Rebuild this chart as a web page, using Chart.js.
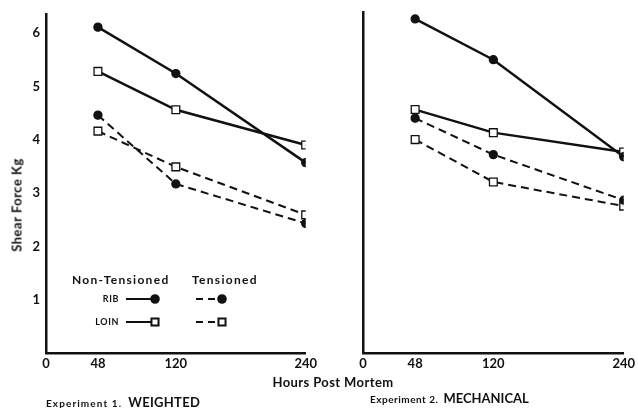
<!DOCTYPE html>
<html>
<head>
<meta charset="utf-8">
<script src="https://cdn.jsdelivr.net/npm/chart.js@4.4.0/dist/chart.umd.min.js"></script>
<style>
  body { margin: 0; background: #fff; font-family: Lato, "Liberation Sans", sans-serif; color: #111; }
  #wrap { position: relative; width: 638px; height: 408px; overflow: hidden; }
  canvas { position: absolute; top: 0; }
  .txt { position: absolute; font-weight: bold; white-space: nowrap; line-height: 1; }
  .small { font-size: 10px; letter-spacing: 1.1px; }
  .big { font-size: 13px; margin-left: 6px; letter-spacing: 0.3px; }
  #cap2 .small { letter-spacing: 0.5px; }
  #cap2 .big { letter-spacing: 0; margin-left: 5px; }
</style>
</head>
<body>
<div id="wrap">
  <canvas id="exp1" width="320" height="408" style="left:0"></canvas>
  <canvas id="exp2" width="318" height="408" style="left:320px"></canvas>
  <div class="txt" style="left:17px;top:205px;font-size:13px;letter-spacing:0.5px;transform:translate(-50%,-50%) rotate(-90deg);">Shear Force Kg</div>
  <div class="txt" style="left:333px;top:382px;font-size:13px;transform:translate(-50%,-50%);letter-spacing:0.4px;">Hours Post Mortem</div>
  <div class="txt" style="left:46px;top:393px;"><span class="small">Experiment 1.</span><span class="big">WEIGHTED</span></div>
  <div class="txt" id="cap2" style="left:370px;top:389px;"><span class="small">Experiment 2.</span><span class="big">MECHANICAL</span></div>
</div>
<script>
// hours post mortem and shear force (kg)
const hours = [48, 120, 240];
const xTicks = [0, 48, 120, 240];
const yTicks = [1, 2, 3, 4, 5, 6];

const exp1RibNT = [6.11, 5.24, 3.57];
const exp1LoinNT = [5.28, 4.56, 3.90];
const exp1RibT = [4.46, 3.17, 2.43];
const exp1LoinT = [4.16, 3.49, 2.59];

const exp2RibNT = [6.23, 5.47, 3.66];
const exp2LoinNT = [4.54, 4.11, 3.75];
const exp2RibT = [4.38, 3.70, 2.85];
const exp2LoinT = [3.98, 3.19, 2.74];

const ink = '#111';
const font = 'Lato, "Liberation Sans", sans-serif';

function series(values, dashed, marker) {
    return {
        data: values.map((v, i) => ({ x: hours[i], y: v })),
        borderColor: ink,
        borderWidth: dashed ? 2 : 2.5,
        borderDash: dashed ? [8, 5] : [],
        pointStyle: marker,
        pointRadius: marker == 'rect' ? 5.5 : 4,
        pointBorderWidth: 1.3,
        pointBorderColor: ink,
        pointBackgroundColor: marker == 'rect' ? '#fff' : ink,
        tension: 0
    };
}

// key for the line styles, drawn in the lower part of the first panel
const keyPlugin = {
    id: 'key',
    afterDatasetsDraw(chart) {
        const ctx = chart.ctx;
        ctx.save();
        ctx.fillStyle = ink;
        ctx.textBaseline = 'middle';
        ctx.font = 'bold 12px ' + font;
        ctx.letterSpacing = '1.3px';
        ctx.fillText('Non-Tensioned', 72, 280);
        ctx.fillText('Tensioned', 192, 280);
        ctx.font = 'bold 9px ' + font;
        ctx.letterSpacing = '0.6px';
        ctx.textAlign = 'right';
        ctx.fillText('RIB', 119, 299);
        ctx.fillText('LOIN', 119, 322);
        ctx.letterSpacing = '0px';

        const rows = [{ y: 299, marker: 'circle' }, { y: 322, marker: 'rect' }];
        rows.forEach(r => {
            ctx.strokeStyle = ink;
            ctx.lineWidth = 2;
            ctx.setLineDash([]);
            ctx.beginPath();
            ctx.moveTo(126, r.y);
            ctx.lineTo(155, r.y);
            ctx.stroke();
            ctx.setLineDash([7, 5]);
            ctx.beginPath();
            ctx.moveTo(196, r.y);
            ctx.lineTo(222, r.y);
            ctx.stroke();
            ctx.setLineDash([]);
            [155, 222].forEach(x => {
                const opts = {
                    pointStyle: r.marker,
                    radius: r.marker == 'rect' ? 5 : 3.8,
                    borderWidth: 1.3
                };
                ctx.fillStyle = r.marker == 'rect' ? '#fff' : ink;
                ctx.strokeStyle = ink;
                Chart.helpers.drawPoint(ctx, opts, x, r.y);
            });
        });
        ctx.restore();
    }
};

function makeChart(id, sets, yWidth, pad, showY, plugins) {
    const ctx = document.getElementById(id).getContext('2d');
    return new Chart(ctx, {
        type: 'line',
        data: {
            datasets: [
                series(sets[0], false, 'circle'),
                series(sets[1], false, 'rect'),
                series(sets[2], true, 'circle'),
                series(sets[3], true, 'rect')
            ]
        },
        options: {
            responsive: false,
            animation: false,
            devicePixelRatio: 1,
            layout: { padding: pad },
            plugins: { legend: { display: false }, tooltip: { enabled: false } },
            scales: {
                x: {
                    type: 'linear',
                    min: 0,
                    max: 240,
                    afterBuildTicks: s => { s.ticks = xTicks.map(v => ({ value: v })); },
                    afterFit: s => { s.height = 55; },
                    grid: { display: false, drawTicks: false },
                    border: { color: ink, width: 2.5 },
                    ticks: { color: ink, padding: 3, font: { family: font, size: 13, weight: 'bold' }, maxRotation: 0 }
                },
                y: {
                    min: 0,
                    max: 6.36,
                    afterBuildTicks: s => { s.ticks = yTicks.map(v => ({ value: v })); },
                    afterFit: s => { s.width = yWidth; },
                    grid: { display: false, drawTicks: false },
                    border: { color: ink, width: 2.5 },
                    ticks: { display: showY, color: ink, padding: 6, font: { family: font, size: 13, weight: 'bold' } }
                }
            }
        },
        plugins: plugins
    });
}

makeChart('exp1', [exp1RibNT, exp1LoinNT, exp1RibT, exp1LoinT], 46, { top: 13, right: 11 }, true, [keyPlugin]);
makeChart('exp2', [exp2RibNT, exp2LoinNT, exp2RibT, exp2LoinT], 43, { top: 12, right: 14 }, false, []);
</script>
</body>
</html>
